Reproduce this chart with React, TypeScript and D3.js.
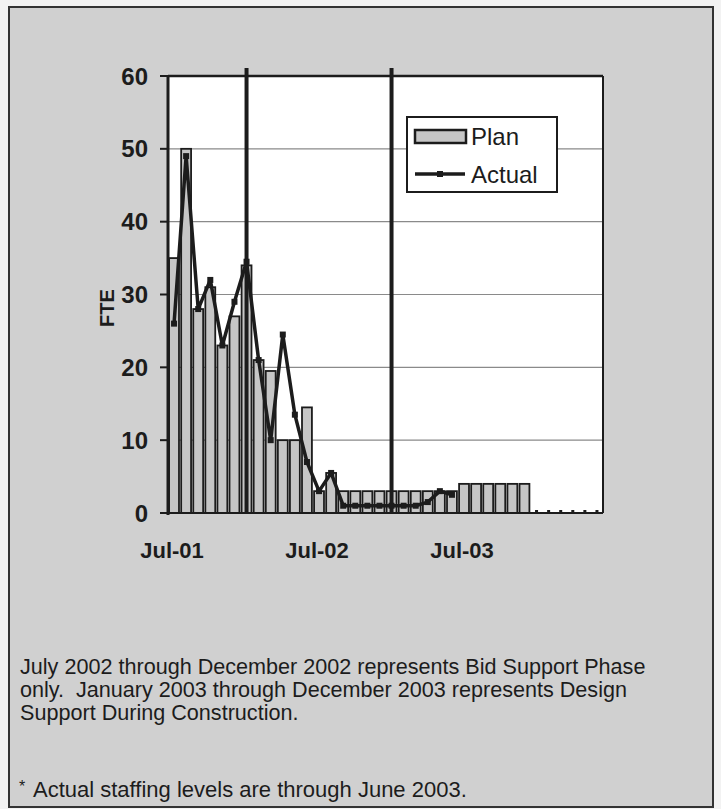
import React from "react";
import * as d3 from "d3";

const months = [
  "Jul-01","Aug-01","Sep-01","Oct-01","Nov-01","Dec-01",
  "Jan-02","Feb-02","Mar-02","Apr-02","May-02","Jun-02",
  "Jul-02","Aug-02","Sep-02","Oct-02","Nov-02","Dec-02",
  "Jan-03","Feb-03","Mar-03","Apr-03","May-03","Jun-03",
  "Jul-03","Aug-03","Sep-03","Oct-03","Nov-03","Dec-03",
  "Jan-04","Feb-04","Mar-04","Apr-04","May-04","Jun-04",
];
const plan = [
  35, 50, 28, 31, 23, 27,
  34, 21, 19.5, 10, 10, 14.5,
  3, 5.5, 3, 3, 3, 3,
  3, 3, 3, 3, 3, 3,
  4, 4, 4, 4, 4, 4,
  0, 0, 0, 0, 0, 0,
];
const actual = [
  26, 49, 28, 32, 23, 29,
  34.5, 21, 10, 24.5, 13.5, 7,
  3, 5.5, 1, 1, 1, 1,
  1, 1, 1, 1.5, 3, 2.5,
];
const yTicks = [0, 10, 20, 30, 40, 50, 60];
const xLabels = ["Jul-01", "Jul-02", "Jul-03"];
const phaseMarks = ["Jan-02", "Jan-03"];
const notes = [
  "July 2002 through December 2002 represents Bid Support Phase",
  "only.  January 2003 through December 2003 represents Design",
  "Support During Construction.",
];
const footnote = "Actual staffing levels are through June 2003.";

const W = 721, H = 809;
const L = 168, R = 603, T = 76, B = 513;
const FONT = "'Liberation Sans', Arial, sans-serif";
const INK = "#1c1c1c";

export default function App() {
  const x = d3.scaleBand<string>().domain(months).range([L, R]).paddingInner(0.18).paddingOuter(0.09);
  const y = d3.scaleLinear().domain([0, 60]).range([B, T]);
  const cx = (m: string) => (x(m) as number) + x.bandwidth() / 2;
  const line = d3.line<number>().x((_, i) => cx(months[i])).y((d) => y(d));

  return (
    <div style={{ position: "absolute", left: 0, top: 0 }}>
      <svg width={W} height={H} style={{ display: "block" }}>
        <rect x={0} y={0} width={W} height={H} fill="#f2f2f2" />
        <rect x={9} y={7} width={704} height={800} fill="#d0d0d0" stroke="#333" strokeWidth={2} />
        <rect x={L} y={T} width={R - L} height={B - T} fill="#ffffff" />
        {yTicks.filter((t) => t > 0 && t < 60).map((t) => (
          <line key={t} x1={L} x2={R} y1={y(t)} y2={y(t)} stroke="#8a8a8a" strokeWidth={1.2} />
        ))}
        {plan.map((v, i) =>
          v > 0 ? (
            <rect key={i} x={x(months[i])} y={y(v)} width={x.bandwidth()} height={B - y(v)}
              fill="#c6c6c6" stroke={INK} strokeWidth={1.8} />
          ) : (
            <rect key={i} x={(x(months[i]) as number) + x.bandwidth() / 2 - 1.5} y={B - 3} width={3} height={3} fill={INK} />
          )
        )}
        {phaseMarks.map((m) => (
          <line key={m} x1={cx(m)} x2={cx(m)} y1={T - 8} y2={B} stroke={INK} strokeWidth={4} />
        ))}
        <path d={line(actual) || ""} fill="none" stroke={INK} strokeWidth={3.5} strokeLinejoin="round" />
        {actual.map((v, i) => (
          <rect key={i} x={cx(months[i]) - 3} y={y(v) - 3} width={6} height={6} fill={INK} />
        ))}
        <line x1={L} x2={R} y1={T} y2={T} stroke={INK} strokeWidth={2.5} />
        <line x1={R} x2={R} y1={T} y2={B} stroke={INK} strokeWidth={2} />
        <line x1={L} x2={R} y1={B} y2={B} stroke={INK} strokeWidth={2} />
        <line x1={L} x2={L} y1={T} y2={B + 2} stroke={INK} strokeWidth={3} />
        {yTicks.map((t) => (
          <g key={t}>
            <line x1={L - 8} x2={L} y1={y(t)} y2={y(t)} stroke={INK} strokeWidth={2} />
            <text x={148} y={y(t)} dy="0.36em" textAnchor="end" fontFamily={FONT} fontWeight="bold" fontSize={24} fill={INK}>{t}</text>
          </g>
        ))}
        {xLabels.map((m) => (
          <text key={m} x={cx(m) - 2} y={558} textAnchor="middle" fontFamily={FONT} fontWeight="bold" fontSize={22} fill={INK}>{m}</text>
        ))}
        <text transform="translate(114,308) rotate(-90)" textAnchor="middle" fontFamily={FONT} fontWeight="bold" fontSize={20} fill={INK}>FTE</text>
        <g>
          <rect x={407} y={117} width={150} height={75} fill="#ffffff" stroke={INK} strokeWidth={2} />
          <rect x={415} y={130} width={51} height={13} fill="#c6c6c6" stroke={INK} strokeWidth={2.5} />
          <text x={471} y={145} fontFamily={FONT} fontSize={24} fill={INK}>Plan</text>
          <line x1={415} x2={465} y1={174} y2={174} stroke={INK} strokeWidth={3.5} />
          <rect x={437} y={171} width={6} height={6} fill={INK} />
          <text x={471} y={183} fontFamily={FONT} fontSize={24} fill={INK}>Actual</text>
        </g>
        {notes.map((s, i) => (
          <text key={i} x={20} y={674 + i * 23} fontFamily={FONT} fontSize={21.6} fill={INK} style={{ whiteSpace: "pre" }}>{s}</text>
        ))}
        <text x={19} y={792} fontFamily={FONT} fontSize={16} fill={INK}>*</text>
        <text x={33} y={797} fontFamily={FONT} fontSize={22} fill={INK}>{footnote}</text>
      </svg>
    </div>
  );
}
